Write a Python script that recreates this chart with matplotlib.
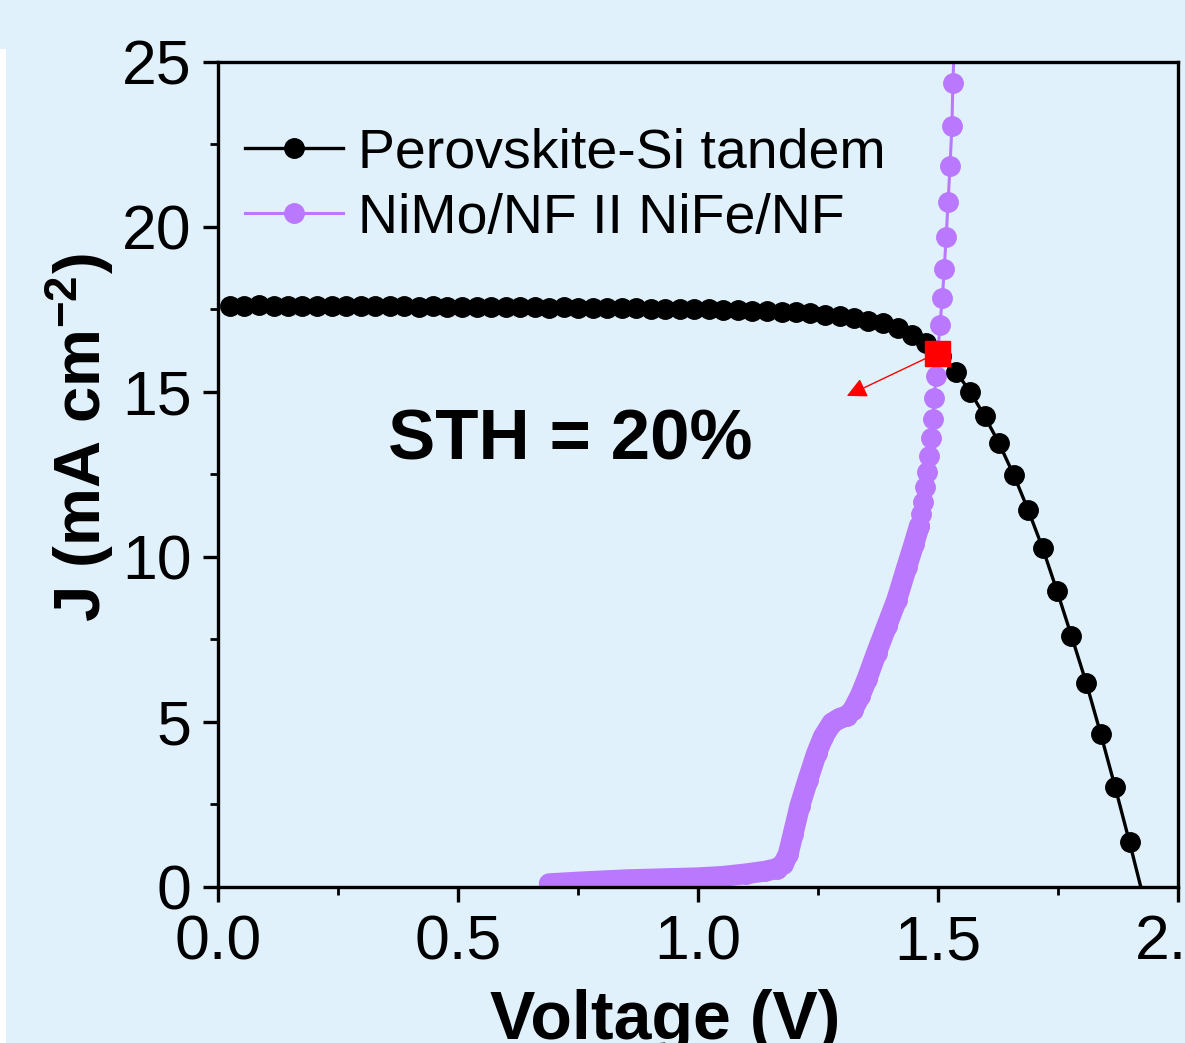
import numpy as np
import matplotlib.pyplot as plt
from matplotlib.patches import Rectangle
from matplotlib.ticker import MultipleLocator

plt.rcParams['font.family'] = ['Liberation Sans', 'DejaVu Sans']
plt.rcParams['mathtext.fontset'] = 'custom'
plt.rcParams['mathtext.rm'] = 'Liberation Sans'
plt.rcParams['mathtext.bf'] = 'Liberation Sans:bold'
plt.rcParams['mathtext.default'] = 'bf'

bg = '#E1F1FB'
purple = '#BA78FF'

# perovskite-Si tandem J-V curve
tandem_v = [0.025, 0.055, 0.085, 0.116, 0.146, 0.176, 0.206, 0.237, 0.267, 0.297,
            0.327, 0.358, 0.388, 0.418, 0.448, 0.478, 0.509, 0.539, 0.569, 0.599,
            0.630, 0.660, 0.690, 0.720, 0.751, 0.781, 0.811, 0.841, 0.871, 0.902,
            0.932, 0.962, 0.992, 1.023, 1.053, 1.083, 1.113, 1.144, 1.174, 1.204,
            1.234, 1.264, 1.295, 1.325, 1.355, 1.385, 1.416, 1.446, 1.476, 1.506,
            1.537, 1.567, 1.597, 1.627, 1.658, 1.688, 1.718, 1.748, 1.778, 1.809,
            1.839, 1.869, 1.899, 1.932]
tandem_j = [17.62, 17.62, 17.63, 17.62, 17.62, 17.61, 17.62, 17.61, 17.60, 17.61,
            17.60, 17.60, 17.60, 17.59, 17.60, 17.59, 17.58, 17.59, 17.58, 17.58,
            17.57, 17.57, 17.56, 17.57, 17.56, 17.55, 17.55, 17.54, 17.54, 17.53,
            17.52, 17.52, 17.51, 17.50, 17.49, 17.48, 17.46, 17.45, 17.43, 17.41,
            17.38, 17.33, 17.30, 17.23, 17.16, 17.10, 16.93, 16.73, 16.48, 16.10,
            15.62, 15.01, 14.27, 13.45, 12.48, 11.42, 10.27, 8.97, 7.61, 6.18,
            4.64, 3.03, 1.36, -0.55]

# NiMo/NF II NiFe/NF electrolyser, dense low-current part
nimo_v_dense = [0.69, 0.75, 0.85, 0.95, 1.00, 1.05, 1.10, 1.14, 1.165, 1.178,
                1.188, 1.198, 1.212, 1.229, 1.247, 1.261, 1.279, 1.296, 1.31, 1.322,
                1.338, 1.352, 1.372, 1.393, 1.414, 1.435, 1.450, 1.461]
nimo_j_dense = [0.10, 0.15, 0.22, 0.26, 0.28, 0.32, 0.40, 0.48, 0.56, 0.70,
                1.0, 1.6, 2.45, 3.25, 4.05, 4.55, 4.97, 5.12, 5.18, 5.35,
                5.8, 6.3, 7.1, 7.9, 8.7, 9.7, 10.4, 10.94]
# sparse high-current part
nimo_v = [1.461, 1.465, 1.469, 1.473, 1.477, 1.481, 1.485, 1.490, 1.492, 1.496,
          1.500, 1.504, 1.509, 1.513, 1.517, 1.521, 1.525, 1.529, 1.531, 1.535]
nimo_j = [10.94, 11.30, 11.67, 12.12, 12.58, 13.06, 13.61, 14.18, 14.82, 15.48,
          16.25, 17.03, 17.85, 18.73, 19.70, 20.76, 21.85, 23.06, 24.36, 25.9]

op_v, op_j = 1.498, 16.18
arrow_tip = (1.31, 14.88)

fig = plt.figure(figsize=(11.85, 10.43), dpi=100, facecolor=bg)
fig.patches.append(Rectangle((0, 0), 6 / 1185, 0.953, transform=fig.transFigure,
                             facecolor='white', edgecolor='none', zorder=0))
ax = fig.add_axes([0.18397, 0.14957, 0.81012, 0.79099])
ax.set_facecolor(bg)

ms = 14
ax.plot(tandem_v, tandem_j, '-o', color='black', lw=2.4, ms=ms,
        label='Perovskite-Si tandem', zorder=3)
ax.plot(nimo_v_dense, nimo_j_dense, '-', color=purple, lw=15,
        solid_capstyle='round', solid_joinstyle='round', zorder=2)
ax.plot(nimo_v_dense, nimo_j_dense, 'o', color=purple, ms=ms, zorder=2)
ax.plot(nimo_v, nimo_j, '-o', color=purple, lw=2.2, ms=ms,
        label='NiMo/NF II NiFe/NF', zorder=2)

ax.annotate('', xy=arrow_tip, xytext=(op_v, op_j),
            arrowprops=dict(arrowstyle='-|>', color='red', lw=1,
                            mutation_scale=30, shrinkA=0, shrinkB=0), zorder=4)
ax.plot([op_v], [op_j], 's', color='red', ms=18, zorder=5)

ax.text(0.733, 13.49, 'STH = 20%', fontsize=51, fontweight='bold',
        ha='center', va='center')

ax.set_xlim(0, 2.0)
ax.set_ylim(0, 25)
ax.xaxis.set_major_locator(MultipleLocator(0.5))
ax.xaxis.set_minor_locator(MultipleLocator(0.25))
ax.yaxis.set_major_locator(MultipleLocator(5))
ax.yaxis.set_minor_locator(MultipleLocator(2.5))
ax.set_xticks([0, 0.5, 1.0, 1.5, 2.0])
ax.set_xticklabels(['0.0', '0.5', '1.0', '1.5', '2.0'])
ax.tick_params(which='major', direction='out', length=11, width=2.4,
               labelsize=45, pad=8, top=False, right=False)
ax.tick_params(which='minor', direction='out', length=5.5, width=2,
               top=False, right=False)
for s in ax.spines.values():
    s.set_linewidth(2.4)

ax.set_xlabel('Voltage (V)', fontsize=49, fontweight='bold')
ax.xaxis.set_label_coords(0.4656, -0.124)
ax.set_ylabel(r'J (mA cm$^{-2}$)', fontsize=47, fontweight='bold')
ax.yaxis.set_label_coords(-0.106, 0.545)

ax.legend(loc='upper left', bbox_to_anchor=(0.028, 0.921), frameon=False,
          fontsize=40, handlelength=1.77, handletextpad=0.27,
          borderaxespad=0, borderpad=0, labelspacing=0.245, numpoints=1)

fig.savefig('out.png', dpi=100, facecolor=bg)
